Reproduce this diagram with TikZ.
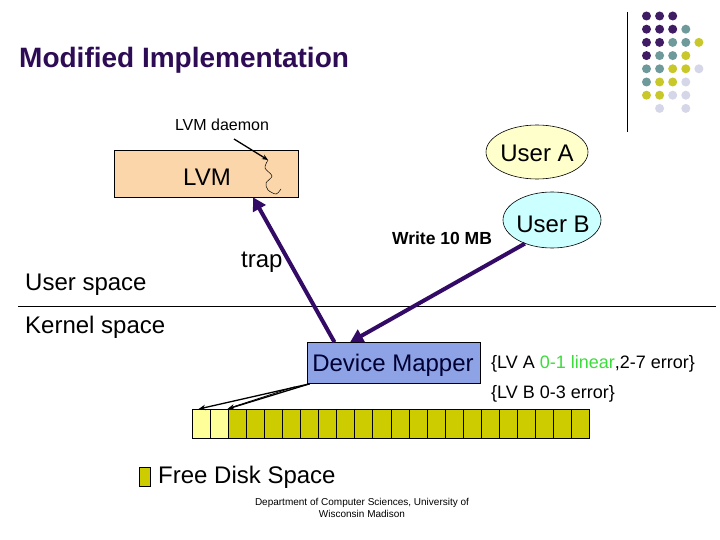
\documentclass[tikz,border=0pt]{standalone}
\usepackage{fontspec}
\setmainfont{Liberation Sans}
\usetikzlibrary{arrows.meta,shapes.geometric,calc}
\definecolor{titlec}{HTML}{2E0B55}
\definecolor{arrowc}{HTML}{330A66}
\definecolor{dotP}{HTML}{3F1C63}
\definecolor{dotT}{HTML}{6F9A9C}
\definecolor{dotY}{HTML}{C9C82A}
\definecolor{dotL}{HTML}{D5D6E8}
\definecolor{peach}{HTML}{FAD6AA}
\definecolor{usera}{HTML}{FFFFCC}
\definecolor{userb}{HTML}{CCFFFF}
\definecolor{dmfill}{HTML}{8DA3E6}
\definecolor{dmtext}{HTML}{000033}
\definecolor{greentxt}{HTML}{3DDC3D}
\definecolor{freecell}{HTML}{FFFF99}
\definecolor{usedcell}{HTML}{CCCC00}
\tikzset{
  bigtxt/.style={font=\fontsize{24}{28}\selectfont, inner sep=0pt},
  medtxt/.style={font=\fontsize{18}{21}\selectfont, inner sep=0pt},
  thickarrow/.style={draw=arrowc, line width=4pt, -{Triangle[length=13pt,width=14pt]}},
  thinarrow/.style={draw=black, line width=1.3pt, -{Stealth[length=7pt,width=5.5pt]}},
  cellbox/.style={draw=black, line width=0.6pt, minimum width=18.05pt, minimum height=29pt, inner sep=0pt, outer sep=0pt},
  userell/.style={ellipse, draw=black, line width=0.6pt, inner sep=0pt},
  dot/.style={circle, minimum size=9pt, inner sep=0pt}
}
\begin{document}
\begin{tikzpicture}[x=1pt,y=-1pt]
\useasboundingbox (0,0) rectangle (720,540);
\fill[white] (0,0) rectangle (720,540);

% title
\node[font=\fontsize{28}{33}\selectfont\bfseries, text=titlec, anchor=west, inner sep=0pt] (title) at (19,60) {Modified Implementation};

% decorative dots
\coordinate (vtop) at (627,12);
\coordinate (vbot) at (627,132);
\draw[line width=0.8pt] (vtop) -- (vbot);
\foreach \c/\r/\col in {
 0/0/dotP,1/0/dotP,2/0/dotP,
 0/1/dotP,1/1/dotP,2/1/dotP,3/1/dotT,
 0/2/dotP,1/2/dotP,2/2/dotT,3/2/dotT,4/2/dotY,
 0/3/dotP,1/3/dotT,2/3/dotT,3/3/dotY,
 0/4/dotT,1/4/dotT,2/4/dotY,3/4/dotY,4/4/dotL,
 0/5/dotT,1/5/dotY,2/5/dotY,3/5/dotL,
 0/6/dotY,1/6/dotY,2/6/dotL,3/6/dotL,
 1/7/dotL,3/7/dotL}
  \node[dot, fill=\col] (d\c\r) at (646.5+13.1*\c, 16+13.2*\r) {};

% LVM box and daemon
\node[draw=black, line width=0.6pt, fill=peach, minimum width=184pt, minimum height=47pt, inner sep=0pt] (lvm) at (206,173.5) {};
\node[bigtxt] (lvmt) at (207,177) {LVM};
\node[font=\fontsize{16}{19}\selectfont, inner sep=0pt] (lvmd) at (222,125) {LVM daemon};
\coordinate (dstart) at (234,139);
\coordinate (dend) at (268,160);
\draw[line width=1.3pt, -{Stealth[length=6pt,width=5pt]}] (dstart) -- (dend);
\draw[line width=0.5pt] plot[smooth] coordinates {(268,160) (265,168) (272,176) (266,183) (268,190) (276,194) (281,189)};

% users
\node[userell, fill=usera, minimum width=102pt, minimum height=54pt] (ua) at (537,152) {};
\node[bigtxt] (uat) at (537,153) {User A};
\node[userell, fill=userb, minimum width=98pt, minimum height=56pt] (ub) at (552,220) {};
\node[bigtxt] (ubt) at (553,224) {User B};
\node[font=\fontsize{17.5}{21}\selectfont\bfseries, inner sep=0pt] (write) at (442,238) {Write 10 MB};

% spaces
\node[bigtxt, anchor=west] (us) at (25,285) {User space};
\node[bigtxt, anchor=west] (ks) at (25,327) {Kernel space};
\node[bigtxt, anchor=west] (trap) at (241,262) {trap};
\coordinate (hl) at (18,306);
\coordinate (hr) at (716,306);
\draw[line width=0.8pt] (hl) -- (hr);

% device mapper
\node[draw=black, line width=0.6pt, fill=dmfill, minimum width=173pt, minimum height=41pt, inner sep=0pt] (dm) at (393.5,363) {};
\node[bigtxt, text=dmtext] (dmt) at (393,365) {Device Mapper};
\node[medtxt, anchor=west] (lva) at (491,364) {\{LV A \textcolor{greentxt}{0-1 linear},2-7 error\}};
\node[medtxt, anchor=west] (lvb) at (491,394) {\{LV B 0-3 error\}};

% thick arrows
\draw[thickarrow] (ub.-139) -- ($(dm.north west)!0.25!(dm.north east)$);
\draw[thickarrow] ($(dm.north west)!0.16!(dm.north east)$) -- ($(lvm.south west)!0.755!(lvm.south east)$);

% disk cells
\foreach \i in {0,...,21}{
  \ifnum\i<2
    \node[cellbox, fill=freecell] (c\i) at (201.3+18.05*\i, 423.5) {};
  \else
    \node[cellbox, fill=usedcell] (c\i) at (201.3+18.05*\i, 423.5) {};
  \fi
}
\draw[thinarrow] ($(dm.south west)+(3,0)$) -- ($(c0.north west)!0.35!(c0.north east)$);
\draw[thinarrow] ($(dm.south west)+(3,0)$) -- ($(c1.north west)!0.95!(c1.north east)$);
\draw[line width=0.8pt] ($(dm.south west)+(-12,3)$) -- ($(c1.north west)!0.95!(c1.north east)+(2,-1)$);

% legend
\node[draw=black, line width=0.6pt, fill=usedcell, minimum width=11pt, minimum height=19pt, inner sep=0pt] (leg) at (144.5,476.5) {};
\node[bigtxt, anchor=west] (legt) at (158,477) {Free Disk Space};

% footer
\node[font=\fontsize{10}{12}\selectfont, align=center, inner sep=0pt] (foot) at (362,508) {Department of Computer Sciences, University of\\Wisconsin Madison};
\end{tikzpicture}
\end{document}
